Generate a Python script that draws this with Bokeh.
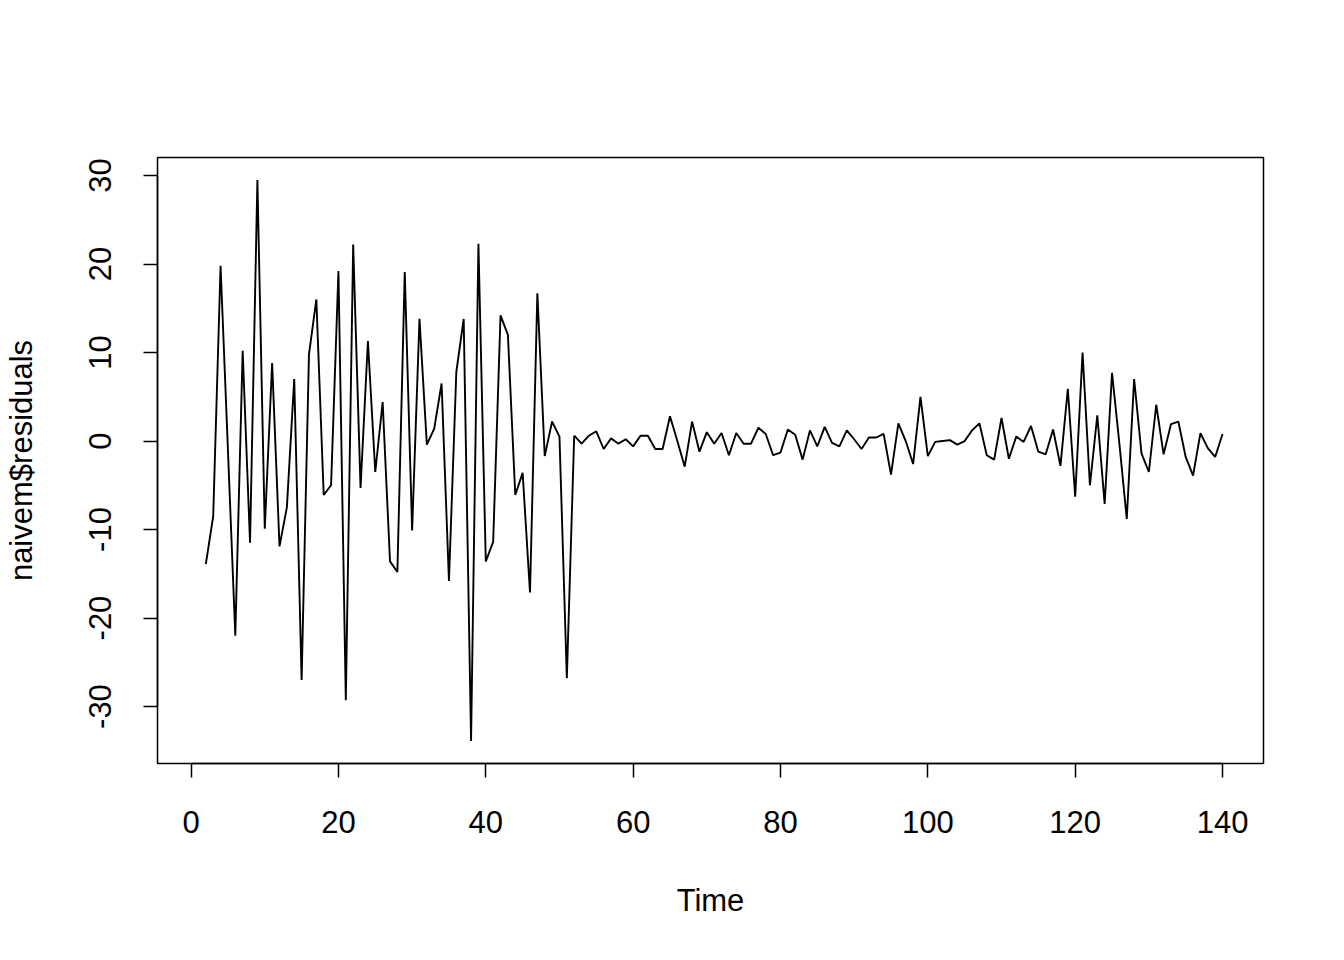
from bokeh.plotting import figure
from bokeh.embed import file_html
from bokeh.resources import INLINE
from bokeh.models import Range1d, FixedTicker

# Time index and residual values (naive forecast residuals, first value NA)
time = list(range(2, 141))
residuals = [
    -13.9, -8.5, 19.8, -1.0, -22.0, 10.2, -11.5, 29.5, -9.9, 8.8,
    -11.9, -7.5, 7.0, -27.0, 9.8, 16.0, -6.1, -5.0, 19.2, -29.3,
    22.2, -5.3, 11.3, -3.5, 4.4, -13.6, -14.8, 19.1, -10.1, 13.8,
    -0.4, 1.4, 6.5, -15.8, 7.8, 13.8, -33.9, 22.3, -13.6, -11.4,
    14.2, 12.0, -6.1, -3.6, -17.1, 16.7, -1.7, 2.2, 0.5, -26.8,
    0.6, -0.3, 0.6, 1.1, -0.9, 0.3, -0.3, 0.2, -0.6, 0.6,
    0.6, -0.9, -0.9, 2.8, 0.0, -2.9, 2.2, -1.2, 1.0, -0.3,
    0.9, -1.6, 0.9, -0.3, -0.3, 1.5, 0.8, -1.6, -1.3, 1.3,
    0.7, -2.1, 1.2, -0.6, 1.6, -0.2, -0.6, 1.2, 0.2, -0.9,
    0.4, 0.4, 0.8, -3.8, 2.0, 0.0, -2.6, 5.0, -1.7, -0.1,
    0.0, 0.1, -0.4, 0.0, 1.2, 2.0, -1.6, -2.1, 2.6, -2.0,
    0.5, -0.1, 1.7, -1.2, -1.5, 1.3, -2.8, 5.9, -6.3, 10.0,
    -5.0, 2.9, -7.1, 7.7, -0.3, -8.8, 7.0, -1.4, -3.5, 4.1,
    -1.5, 1.9, 2.2, -1.8, -3.9, 0.9, -0.8, -1.8, 0.8,
]
x_ticks = [0, 20, 40, 60, 80, 100, 120, 140]
y_ticks = [-30, -20, -10, 0, 10, 20, 30]

# R-style 4% padding; series starts at t=1 (NA)
t0, t1 = 1, 140
xpad = 0.04 * (t1 - t0)
ymin, ymax = min(residuals), max(residuals)
ypad = 0.04 * (ymax - ymin)

FONT = "Liberation Sans"
FS = "31px"

p = figure(width=1328, height=944, output_backend="svg", toolbar_location=None,
           x_range=Range1d(t0 - xpad, t1 + xpad),
           y_range=Range1d(ymin - ypad, ymax + ypad),
           min_border_left=157, min_border_right=65,
           min_border_top=157, min_border_bottom=181)
p.background_fill_color = "white"
p.border_fill_color = "white"
p.outline_line_color = "black"
p.outline_line_width = 1.5
p.xgrid.visible = False
p.ygrid.visible = False

p.line(time, residuals, line_color="black", line_width=1.9)

for ax, ticks in ((p.xaxis[0], x_ticks), (p.yaxis[0], y_ticks)):
    ax.ticker = FixedTicker(ticks=ticks)
    ax.minor_tick_line_color = None
    ax.major_tick_in = 0
    ax.major_tick_out = 14
    ax.major_tick_line_width = 1.5
    ax.axis_line_width = 1.5
    ax.axis_line_color = "black"
    ax.major_tick_line_color = "black"
    ax.major_label_text_font = FONT
    ax.major_label_text_font_size = FS
    ax.major_label_text_color = "black"
    ax.axis_label_text_font = FONT
    ax.axis_label_text_font_size = FS
    ax.axis_label_text_font_style = "normal"
    ax.axis_label_text_color = "black"
    ax.major_label_overrides = {t: str(t) for t in ticks}

p.xaxis.bounds = (0, 140)
p.yaxis.bounds = (-30, 30)
p.xaxis.axis_label = "Time"
p.yaxis.axis_label = "naivem$residuals"
p.yaxis.major_label_orientation = "vertical"
p.xaxis.major_label_standoff = 33
p.yaxis.major_label_standoff = 32
p.xaxis.axis_label_standoff = 47
p.yaxis.axis_label_standoff = 48

open("out.html", "w").write(file_html(p, INLINE))
